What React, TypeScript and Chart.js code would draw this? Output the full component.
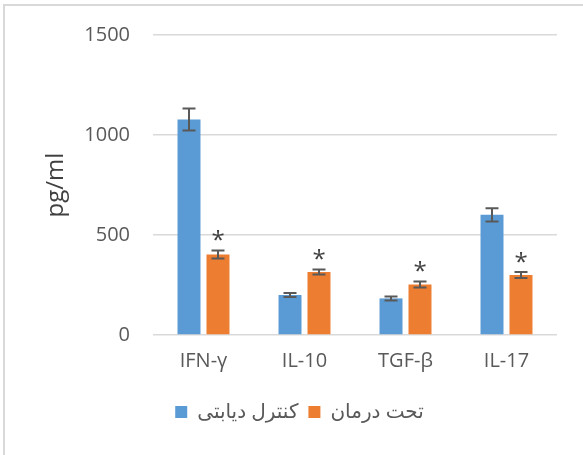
import React, { useEffect, useRef } from "react";
import { Chart, registerables } from "chart.js";

Chart.register(...registerables);

const categories = ["IFN-γ", "IL-10", "TGF-β", "IL-17"];
const seriesNames = ["کنترل دیابتی", "تحت درمان"];
const controlValues = [1078, 200, 183, 601];
const controlErrors = [55, 10, 10, 33];
const treatedValues = [403, 315, 253, 300];
const treatedErrors = [20, 13, 15, 15];
const treatedSignificant = [true, true, true, true];
const yTicks = [0, 500, 1000, 1500];

const FONT = "'Open Sans', 'DejaVu Sans', sans-serif";
const TICK_COLOR = "#595959";

const errorBarPlugin = {
  id: "errorBars",
  afterDatasetsDraw(chart: any) {
    const ctx = chart.ctx;
    const yScale = chart.scales.y;
    const errs = [controlErrors, treatedErrors];
    const vals = [controlValues, treatedValues];
    ctx.save();
    ctx.strokeStyle = "#595959";
    ctx.lineWidth = 2;
    chart.data.datasets.forEach((_: any, di: number) => {
      const meta = chart.getDatasetMeta(di);
      meta.data.forEach((bar: any, i: number) => {
        const v = vals[di][i];
        const e = errs[di][i];
        const x = bar.x;
        const yTop = yScale.getPixelForValue(v + e);
        const yBot = yScale.getPixelForValue(v - e);
        const cap = 6.5;
        ctx.beginPath();
        ctx.moveTo(x, yTop);
        ctx.lineTo(x, yBot);
        ctx.moveTo(x - cap, yTop);
        ctx.lineTo(x + cap, yTop);
        ctx.moveTo(x - cap, yBot);
        ctx.lineTo(x + cap, yBot);
        ctx.stroke();
        if (di === 1 && treatedSignificant[i]) {
          ctx.fillStyle = "#404040";
          ctx.font = `24px ${FONT}`;
          ctx.textAlign = "center";
          ctx.textBaseline = "middle";
          ctx.fillText("*", x, yTop - 9);
        }
      });
    });
    ctx.restore();
  },
};

export default function App() {
  const canvasRef = useRef<HTMLCanvasElement | null>(null);

  useEffect(() => {
    if (!canvasRef.current) return;
    const chart = new Chart(canvasRef.current, {
      type: "bar",
      data: {
        labels: categories,
        datasets: [
          {
            label: seriesNames[0],
            data: controlValues,
            backgroundColor: "#5B9BD5",
            categoryPercentage: 0.574,
            barPercentage: 0.793,
          },
          {
            label: seriesNames[1],
            data: treatedValues,
            backgroundColor: "#ED7D31",
            categoryPercentage: 0.574,
            barPercentage: 0.793,
          },
        ],
      },
      options: {
        responsive: false,
        animation: false,
        devicePixelRatio: 1,
        layout: { padding: { left: 42, right: 26, top: 34, bottom: 23 } },
        plugins: {
          tooltip: { enabled: false },
          legend: {
            position: "bottom",
            labels: {
              boxWidth: 12,
              boxHeight: 12,
              padding: 10,
              color: TICK_COLOR,
              font: { size: 20, family: FONT },
            },
          },
        },
        scales: {
          x: {
            grid: { display: false, drawTicks: false },
            border: { display: false },
            ticks: {
              color: TICK_COLOR,
              font: { size: 20, family: FONT },
              padding: 14,
            },
            afterFit: (scale: any) => {
              scale.height = 57;
            },
          },
          y: {
            min: 0,
            max: 1500,
            afterBuildTicks: (scale: any) => {
              scale.ticks = yTicks.map((v) => ({ value: v }));
            },
            grid: { color: "#d9d9d9", lineWidth: 1.5, drawTicks: false },
            border: { display: false },
            ticks: {
              color: TICK_COLOR,
              font: { size: 20, family: FONT },
              padding: 23,
              callback: (v: any) => String(v),
            },
            title: {
              display: true,
              text: "pg/ml",
              color: "#404040",
              font: { size: 24, family: FONT },
              padding: { top: 0, bottom: 0 },
            },
            afterFit: (scale: any) => {
              scale.width = 111;
            },
          },
        },
      },
      plugins: [errorBarPlugin],
    });
    return () => chart.destroy();
  }, []);

  return (
    <div
      style={{
        position: "fixed",
        left: 0,
        top: 0,
        width: 583,
        height: 455,
        overflow: "hidden",
        background: "#ffffff",
      }}
    >
      <div
        style={{
          position: "absolute",
          left: 3,
          top: 4,
          width: 700,
          height: 600,
          borderLeft: "2px solid #d9d9d9",
          borderTop: "2px solid #d9d9d9",
        }}
      />
      <canvas
        ref={canvasRef}
        width={583}
        height={455}
        style={{ position: "absolute", left: 0, top: 0, width: 583, height: 455 }}
      />
    </div>
  );
}
